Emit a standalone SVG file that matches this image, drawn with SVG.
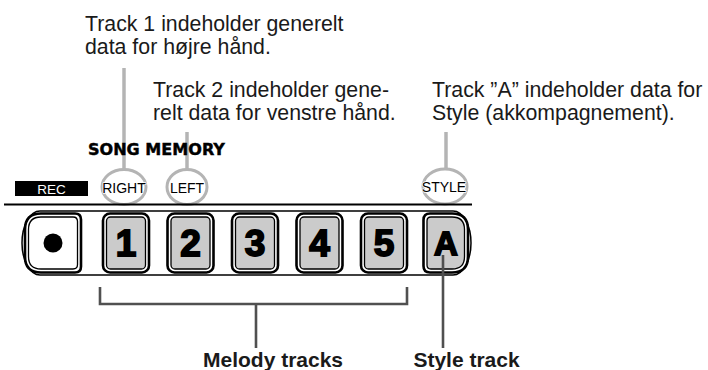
<svg xmlns="http://www.w3.org/2000/svg" width="708" height="370" viewBox="0 0 708 370">
<style>
.note{font-family:"Liberation Sans",Arial,sans-serif;font-size:21.3px;fill:#1a1a1a}
.lbl{font-family:"Liberation Sans",Arial,sans-serif;font-size:14px;fill:#000;text-anchor:middle;stroke:#fff;stroke-width:1.6;paint-order:stroke;stroke-linejoin:round}
.cap{font-family:"Liberation Sans",Arial,sans-serif;font-size:21px;font-weight:bold;fill:#1a1a1a;text-anchor:middle}
.dig{font-family:"Liberation Sans",Arial,sans-serif;font-size:37px;font-weight:bold;fill:#000;stroke:#000;stroke-width:1.8;text-anchor:middle}
.outer{fill:#fff;stroke:#000;stroke-width:2.6}
.inner{fill:#cbcbcb;stroke:#000;stroke-width:1.3}
.grey{stroke:#b4b4b4;stroke-width:3.5;fill:none}
.ring{stroke:#b4b4b4;stroke-width:3;fill:#fff}
.dark{stroke:#505050;stroke-width:2.6;fill:none}
</style>

<g id="notes">
<text class="note" x="85" y="31">Track 1 indeholder generelt</text>
<text class="note" x="85" y="54">data for højre hånd.</text>
<text class="note" x="153" y="97">Track 2 indeholder gene-</text>
<text class="note" x="153" y="120">relt data for venstre hånd.</text>
<text class="note" x="432" y="97">Track ”A” indeholder data for</text>
<text class="note" x="432" y="120">Style (akkompagnement).</text>
</g>

<g id="connectors">
<line class="grey" x1="124" y1="68" x2="124" y2="171"/>
<line class="grey" x1="187" y1="132" x2="187" y2="171"/>
<line class="grey" x1="446" y1="132" x2="446" y2="170"/>
</g>

<g id="song-memory">
<text x="88" y="155" textLength="137" lengthAdjust="spacingAndGlyphs" style="font-family:'DejaVu Sans',sans-serif;font-weight:bold;font-size:15px;fill:#000;stroke:#000;stroke-width:0.4">SONG MEMORY</text>
</g>

<g id="label-rec">
<rect x="15" y="181" width="73" height="15" fill="#000"/>
<text x="51.5" y="193.5" style="font-family:'Liberation Sans',Arial,sans-serif;font-size:13.5px;fill:#fff;text-anchor:middle">REC</text>
</g>
<g id="label-right">
<ellipse class="ring" cx="124" cy="187" rx="22" ry="17.5"/>
<text class="lbl" x="124" y="193">RIGHT</text>
</g>
<g id="label-left">
<ellipse class="ring" cx="187" cy="187" rx="20" ry="17.5"/>
<text class="lbl" x="187" y="193">LEFT</text>
</g>
<g id="label-style">
<ellipse class="ring" cx="445" cy="186.5" rx="22" ry="17.5"/>
<text class="lbl" x="444" y="192">STYLE</text>
</g>

<line x1="4" y1="204.5" x2="472" y2="204.5" stroke="#000" stroke-width="2"/>

<g id="panel">
<path d="M40,211 H453 A18,32 0 0 1 471,243 A18,32 0 0 1 453,275 H40 A18,32 0 0 1 22,243 A18,32 0 0 1 40,211 Z" fill="#fff" stroke="#000" stroke-width="1.5"/>
</g>

<g id="btn-rec">
<path class="outer" d="M41,213.5 H75 Q81,213.5 81,219.5 V266.5 Q81,272.5 75,272.5 H41 Q25,272.5 25,256.5 V229.5 Q25,213.5 41,213.5 Z"/>
<path d="M41,217 H73 Q77.5,217 77.5,221.5 V264.5 Q77.5,269 73,269 H41 Q28.5,269 28.5,256.5 V229.5 Q28.5,217 41,217 Z" fill="#fff" stroke="#000" stroke-width="1.3"/>
<circle cx="53" cy="243" r="9.5" fill="#000"/>
</g>

<g id="btn-1">
<rect class="outer" x="103" y="213.5" width="46" height="59" rx="7"/>
<rect class="inner" x="106.5" y="217" width="39" height="52" rx="4"/>
<text class="dig" x="126" y="256">1</text>
</g>
<g id="btn-2">
<rect class="outer" x="167.5" y="213.5" width="46" height="59" rx="7"/>
<rect class="inner" x="171" y="217" width="39" height="52" rx="4"/>
<text class="dig" x="190.5" y="256">2</text>
</g>
<g id="btn-3">
<rect class="outer" x="232" y="213.5" width="46" height="59" rx="7"/>
<rect class="inner" x="235.5" y="217" width="39" height="52" rx="4"/>
<text class="dig" x="255" y="256">3</text>
</g>
<g id="btn-4">
<rect class="outer" x="296.5" y="213.5" width="46" height="59" rx="7"/>
<rect class="inner" x="300" y="217" width="39" height="52" rx="4"/>
<text class="dig" x="319.5" y="256">4</text>
</g>
<g id="btn-5">
<rect class="outer" x="361" y="213.5" width="46" height="59" rx="7"/>
<rect class="inner" x="364.5" y="217" width="39" height="52" rx="4"/>
<text class="dig" x="384" y="256">5</text>
</g>
<g id="btn-a">
<path class="outer" d="M430,213.5 H452 Q468,213.5 468,229.5 V256.5 Q468,272.5 452,272.5 H430 Q423.5,272.5 423.5,266 V220 Q423.5,213.5 430,213.5 Z"/>
<path class="inner" d="M431,217 H452 Q464.5,217 464.5,229.5 V256.5 Q464.5,269 452,269 H431 Q427,269 427,265 V221 Q427,217 431,217 Z"/>
<text class="dig" x="446" y="255" style="font-size:33px">A</text>
</g>

<g id="bracket">
<path class="dark" d="M100,287 V304 H407 V287"/>
<line class="dark" x1="256" y1="304" x2="256" y2="348"/>
<line class="dark" x1="443" y1="255" x2="443" y2="348"/>
</g>

<g id="captions">
<text class="cap" x="273" y="367">Melody tracks</text>
<text class="cap" x="466.5" y="367">Style track</text>
</g>
</svg>
